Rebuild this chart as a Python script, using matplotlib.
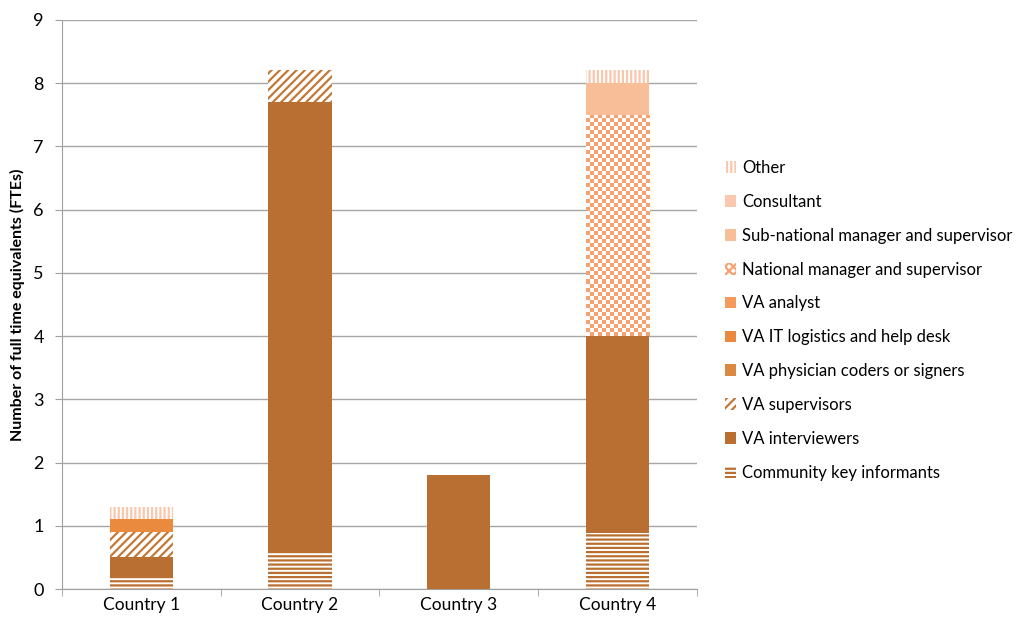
import numpy as np
import matplotlib
matplotlib.use("Agg")
import matplotlib.pyplot as plt
from matplotlib.patches import Patch

plt.rcParams['font.family'] = ['Lato', 'DejaVu Sans']
plt.rcParams['hatch.linewidth'] = 1.6

countries = ['Country 1', 'Country 2', 'Country 3', 'Country 4']

# stacked from bottom to top
community = [0.2, 0.57, 0.0, 0.88]
interviewers = [0.3, 7.13, 1.8, 3.12]
supervisors = [0.4, 0.5, 0.0, 0.0]
physicians = [0.0, 0.0, 0.0, 0.0]
it_logistics = [0.2, 0.0, 0.0, 0.0]
analyst = [0.0, 0.0, 0.0, 0.0]
national = [0.0, 0.0, 0.0, 3.5]
subnational = [0.0, 0.0, 0.0, 0.5]
consultant = [0.0, 0.0, 0.0, 0.0]
other = [0.2, 0.0, 0.0, 0.2]

series = [
    ('Community key informants', community, '#BA6F30', '----'),
    ('VA interviewers', interviewers, '#B96F32', None),
    ('VA supervisors', supervisors, '#C47838', '////'),
    ('VA physician coders or signers', physicians, '#DB8843', None),
    ('VA IT logistics and help desk', it_logistics, '#EA8A3E', None),
    ('VA analyst', analyst, '#F49A5A', None),
    ('National manager and supervisor', national, '#F9A16E', 'checker'),
    ('Sub-national manager and supervisor', subnational, '#F8BE97', None),
    ('Consultant', consultant, '#F9C8AE', None),
    ('Other', other, '#F8C7AC', '||||'),
]

fig = plt.figure(figsize=(10.24, 6.2), dpi=100)
ax = fig.add_axes([0.0605, 0.05, 0.62, 0.918])
ax.set_ylim(0, 9)
ax.set_xlim(-0.5, 3.5)
x = np.arange(len(countries))
width = 0.4

bottom = np.zeros(len(countries))
handles = []
for name, vals, col, hatch in series:
    vals = np.array(vals)
    if hatch is None:
        ax.bar(x, vals, width, bottom=bottom, color=col, linewidth=0, zorder=3)
        h = Patch(facecolor=col, edgecolor='none')
    elif hatch == 'checker':
        bars = ax.bar(x, vals, width, bottom=bottom, color='white', linewidth=0, zorder=3)
        for b, v in zip(bars, vals):
            if v <= 0:
                continue
            x0, y0 = b.get_x(), b.get_y()
            w, hgt = b.get_width(), b.get_height()
            nx = int(round(w / 4.0 * 635 / 4))
            ny = int(round(hgt / 9.0 * 569 / 4))
            cb = (np.add.outer(np.arange(ny), np.arange(nx)) % 2).astype(float)
            cmap = matplotlib.colors.ListedColormap(['white', col])
            im = ax.imshow(cb, extent=(x0, x0 + w, y0, y0 + hgt), cmap=cmap,
                           aspect='auto', interpolation='nearest', zorder=4)
            im.set_clip_path(b)
        h = Patch(facecolor='white', edgecolor=col, hatch='xxxx', linewidth=0)
    else:
        ax.bar(x, vals, width, bottom=bottom, color='white', edgecolor=col,
               hatch=hatch, linewidth=0, zorder=3)
        h = Patch(facecolor='white', edgecolor=col, hatch=hatch, linewidth=0)
    handles.append((h, name))
    bottom = bottom + vals

ax.set_yticks(range(10))
ax.set_xticks(x)
ax.set_xticklabels(countries, fontsize=12.5)
ax.set_xticks(np.arange(-0.5, 4, 1), minor=True)
ax.tick_params(axis='x', which='major', length=0, pad=6)
ax.tick_params(axis='x', which='minor', length=5, color='#A0A0A0')
ax.tick_params(axis='y', length=5, color='#A0A0A0', labelsize=13, pad=8)
ax.grid(axis='y', color='#A6A6A6', linewidth=1, zorder=0)
for s in ['top', 'right']:
    ax.spines[s].set_visible(False)
for s in ['left', 'bottom']:
    ax.spines[s].set_color('#A0A0A0')
ax.set_ylabel('Number of full time equivalents (FTEs)', fontsize=11.5, fontweight='bold', labelpad=6)

handles = handles[::-1]
ax.legend([h for h, _ in handles], [n for _, n in handles], loc='center left',
          bbox_to_anchor=(1.02, 0.472), frameon=False, fontsize=12,
          handlelength=0.7, handleheight=0.7, handletextpad=0.35, labelspacing=1.07)

fig.savefig('out.png', dpi=100)
